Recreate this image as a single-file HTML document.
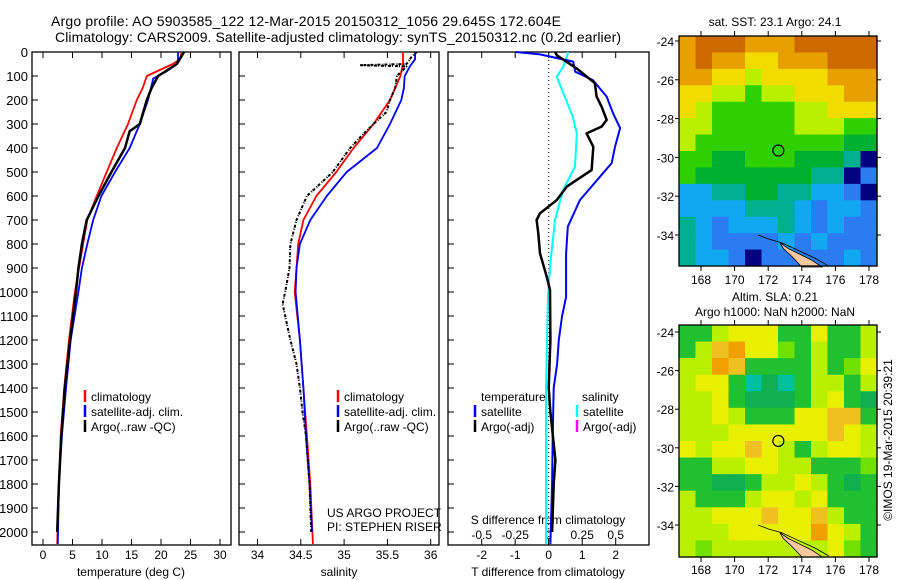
<!DOCTYPE html>
<html><head><meta charset="utf-8"><style>
body{margin:0;background:#fff}
svg{display:block;font-family:"Liberation Sans",sans-serif}
</style></head><body>
<svg id="fig" width="900" height="580" xmlns="http://www.w3.org/2000/svg">
<text x="306" y="26" font-size="14" text-anchor="middle" textLength="510">Argo profile: AO 5903585_122 12-Mar-2015 20150312_1056 29.645S 172.604E</text>
<text x="338" y="42" font-size="14" text-anchor="middle" textLength="566">Climatology: CARS2009. Satellite-adjusted climatology: synTS_20150312.nc (0.2d earlier)</text>
<text x="775" y="26" font-size="12" text-anchor="middle">sat. SST: 23.1  Argo: 24.1</text>
<text x="775" y="301" font-size="12" text-anchor="middle">Altim. SLA: 0.21</text>
<text x="775" y="316" font-size="12" text-anchor="middle">Argo h1000: NaN h2000: NaN</text>
<text transform="translate(892,440) rotate(-90)" font-size="12" text-anchor="middle">©IMOS 19-Mar-2015 20:39:21</text>
<g id="g"></g>
</svg>
<script>
// ---- data ----
const depthTicks=[0,100,200,300,400,500,600,700,800,900,1000,1100,1200,1300,1400,1500,1600,1700,1800,1900,2000];
const tempTicks=[0,5,10,15,20,25,30];
const salTicks=[34,34.5,35,35.5,36];
const salTickLabels=["34","34.5","35","35.5","36"];
const tdTicks=[-2,-1,0,1,2];
const sdTicks=[-0.5,-0.25,0,0.25,0.5];
const sdTickLabels=["-0.5","-0.25","0","0.25","0.5"];

const tClimDepth=[0,30,50,100,150,200,300,400,500,600,700,800,900,1000,1200,1400,1600,1800,2050];
const tClim=[23.5,23.2,22.0,17.6,16.9,15.9,14.4,12.5,10.8,9.1,7.5,6.8,6.1,5.4,4.4,3.6,3.0,2.7,2.4];
const tSatDepth=[0,30,50,80,110,200,300,400,500,600,700,800,900,1000,1200,1400,1600,1800,2050];
const tSat=[22.9,22.9,22.7,21.0,18.7,17.8,16.4,14.7,12.2,9.9,8.5,7.5,6.6,6.0,4.7,3.9,3.2,2.7,2.5];
const tArgoDepth=[0,50,100,150,200,300,330,400,500,600,700,800,900,1000,1200,1400,1600,1800,2000];
const tArgo=[23.9,22.7,19.5,18.4,17.6,16.4,14.7,13.9,11.6,9.4,7.4,6.6,6.0,5.6,4.6,3.7,3.1,2.7,2.4];

const sClimDepth=[0,50,100,200,300,400,500,600,700,800,900,1000,1200,1400,1600,1800,2050];
const sClim=[35.68,35.68,35.65,35.53,35.34,35.11,34.91,34.68,34.53,34.47,34.45,34.43,34.49,34.53,34.57,34.61,34.64];
const sSatDepth=[0,30,60,100,150,200,300,400,500,600,700,800,900,1000,1200,1400,1600,1800,2000];
const sSat=[35.82,35.82,35.76,35.70,35.69,35.66,35.53,35.38,35.03,34.80,34.61,34.49,34.45,34.44,34.49,34.53,34.56,34.60,34.63];
const sArgoDepth=[0,20,50,55,60,100,150,200,250,300,350,400,500,550,600,700,800,900,1000,1050,1100,1200,1300,1400,1500,1600,1800,2000];
const sArgo=[35.84,35.78,35.72,35.18,35.72,35.61,35.59,35.53,35.49,35.34,35.20,35.07,34.87,34.72,34.57,34.45,34.38,34.37,34.32,34.29,34.32,34.38,34.45,34.49,34.52,34.56,34.60,34.62];

const tdSatDepth=[0,10,40,82,117,186,255,317,395,463,505,617,728,840,1020,1100,1200,1300,1400,1600,1800,2050];
const tdSat=[-0.98,-0.26,0.73,0.79,1.32,1.73,1.92,2.13,1.98,1.88,1.62,0.93,0.57,0.52,0.52,0.4,0.3,0.25,0.15,0.12,0.1,0.05];
const tdArgoDepth=[0,15,68,130,186,228,283,311,339,395,492,561,617,672,700,756,839,936,992,1200,1400,1500,1700,1800,2000];
const tdArgo=[0.19,0.25,0.83,1.38,1.43,1.58,1.73,1.58,1.13,1.33,1.28,0.54,0.24,-0.26,-0.36,-0.31,-0.26,-0.06,0.04,0.05,0.0,0.05,0.2,0.15,0.1];
const sdSatDepth=[0,61,103,200,270,339,478,575,700,895,1020,1400,2050];
const sdSat=[0.146,0.11,0.06,0.13,0.18,0.21,0.196,0.107,0.047,0.01,-0.005,-0.02,-0.02];

const lonTicks=[168,170,172,174,176,178];
const latTicks=[-24,-26,-28,-30,-32,-34];
const sstPalette=["#cc6a00","#e8a000","#f2dc00","#b8f000","#30d000","#00b030","#00b090","#10a8f0","#2a7cf0","#000080"];
const sstGrid=[
"100011100000","101122111000","112232222111","223343322211","234444433222","334444433344",
"344444444455","445544455569","455555556698","776655667789","777766678778","678777678788",
"678888787888","677898888878"];
const slaPalette=["#f0a000","#f0c020","#e8f000","#b8f000","#70e000","#20c030","#10b050","#00c0a0"];
const slaGrid=[
"553222552553","531022453553","330155553542","322576753353","332566653256","332355522115",
"333222222123","232212353223","553322335554","556653323565","355532232555","332221221355",
"333222220235","343333333245"];
const argoLon=172.604, argoLat=-29.645;

// ---- drawing ----
const NS="http://www.w3.org/2000/svg", G=document.getElementById('g');
function el(t,a,p){const e=document.createElementNS(NS,t);for(const k in a)e.setAttribute(k,a[k]);(p||G).appendChild(e);return e;}
const yTop=52,yBot=545;
const yD=d=>yTop+d*0.24;
const panels=[
 {x0:32,x1:231,fx:v=>43+v*5.9,name:'temperature-panel'},
 {x0:239,x1:439,fx:v=>257.5+(v-34)*86.6,name:'salinity-panel'},
 {x0:448,x1:649,fx:v=>548.7+v*33.5,name:'difference-panel'}];
const fS=v=>548.7+v*134;

panels.forEach((p,i)=>{
 const r=el('rect',{x:p.x0,y:yTop,width:p.x1-p.x0,height:yBot-yTop,fill:'none',stroke:'#000','stroke-width':1.3});
 
 
 depthTicks.forEach(d=>{
  const t=el('line',{x1:p.x0,x2:p.x0+6,y1:yD(d),y2:yD(d),stroke:'#000'});
  
  
  if(i==0){const l=el('text',{x:p.x0-4,y:yD(d)+5,'font-size':13,'text-anchor':'end'});l.textContent=d;
   
   }
 });
});
function xticks(p,vals,labels){
 vals.forEach((v,k)=>{const x=p.fx(v);
  el('line',{x1:x,x2:x,y1:yBot,y2:yBot-6,stroke:'#000'});el('line',{x1:x,x2:x,y1:yTop,y2:yTop+6,stroke:'#000'});
  const l=el('text',{x:x,y:559,'font-size':12,'text-anchor':'middle'});l.textContent=labels?labels[k]:v;
  
  });
}
xticks(panels[0],tempTicks);xticks(panels[1],salTicks,salTickLabels);xticks(panels[2],tdTicks);
sdTicks.forEach((v,k)=>{const l=el('text',{x:fS(v),y:539,'font-size':12,'text-anchor':'middle'});l.textContent=sdTickLabels[k];
 
 });
[['temperature (deg C)',131],['salinity',339],['T difference from climatology',548]].forEach(a=>{
 const l=el('text',{x:a[1],y:576,'font-size':12,'text-anchor':'middle'});l.textContent=a[0];
 
 });
const sl=el('text',{x:548,y:524,'font-size':12,'text-anchor':'middle'});sl.textContent='S difference from climatology';


el('line',{x1:548.7,x2:548.7,y1:yTop,y2:yBot,stroke:'#000','stroke-dasharray':'1,3'});

function line(depths,vals,fx,color,w,name,dash){
 const pts=depths.map((d,k)=>fx(vals[k]).toFixed(1)+','+yD(d).toFixed(1)).join(' ');
 const a={points:pts,fill:'none',stroke:color,'stroke-width':w,'stroke-linejoin':'round'};if(dash)a['stroke-dasharray']=dash;
 const e=el('polyline',a);
 
 
}
const fT=panels[0].fx,fSal=panels[1].fx,fTd=panels[2].fx;
line(tClimDepth,tClim,fT,'#f00',1.8,'temp-climatology-line');
line(tSatDepth,tSat,fT,'#00f',1.8,'temp-satellite-line');
line(tArgoDepth,tArgo,fT,'#000',2.5,'temp-argo-line');
line(sClimDepth,sClim,fSal,'#f00',1.8,'sal-climatology-line');
line(sSatDepth,sSat,fSal,'#00f',1.8,'sal-satellite-line');
line(sArgoDepth,sArgo,fSal,'#000',2,'sal-argo-line','3,1,1,2');
line(sdSatDepth,sdSat,fS,'#0ff',2,'sdiff-satellite-line');
line(tdSatDepth,tdSat,fTd,'#00f',2,'tdiff-satellite-line');
line(tdArgoDepth,tdArgo,fTd,'#000',2.5,'tdiff-argo-line');

function legend(x,y,color,text){
 el('line',{x1:x,x2:x,y1:y-11,y2:y+1,stroke:color,'stroke-width':2.5});
 const l=el('text',{x:x+6,y:y,'font-size':12});l.textContent=text;
 
 
}
[[401,'#f00','climatology'],[416,'#00f','satellite-adj. clim.'],[431,'#000','Argo(..raw -QC)']].forEach(a=>{legend(85,a[0],a[1],a[2]);legend(338,a[0],a[1],a[2]);});
const tt=el('text',{x:481,y:401,'font-size':12});tt.textContent='temperature';
const st=el('text',{x:582,y:401,'font-size':12});st.textContent='salinity';
legend(475,416,'#00f','satellite');legend(475,431,'#000','Argo(-adj)');
legend(577,416,'#0ff','satellite');legend(577,431,'#f0f','Argo(-adj)');
const u1=el('text',{x:327,y:517,'font-size':12});u1.textContent='US ARGO PROJECT';
const u2=el('text',{x:327,y:531,'font-size':12});u2.textContent='PI: STEPHEN RISER';

// maps
function map(top,bot,grid,pal,name,lonLabY){
 const x0=679,x1=877,lat0=-24,y24=top+ (name=='sst'?5:7),pxLat=name=='sst'?19.4:19.3;
 const lx=lon=>701+(lon-168)*16.8, ly=lat=>y24+(lat0-lat)*pxLat;
 const cw=(x1-x0)/12,ch=(bot-top)/grid.length;
 grid.forEach((row,r)=>{[...row].forEach((c,k)=>{
  const e=el('rect',{x:(x0+k*cw).toFixed(2),y:(top+r*ch).toFixed(2),width:(cw+0.6).toFixed(2),height:(ch+0.6).toFixed(2),fill:pal[+c]});
  
  
 });});
 const land=[[172.7,-34.4],[173.2,-34.7],[173.9,-35.0],[174.6,-35.3],[175.2,-35.65],[174.0,-35.65],[173.4,-35.1],[172.9,-34.7]];
 const lp=el('polygon',{points:land.map(p=>lx(p[0])+','+ly(p[1])).join(' '),fill:'#f8c8a0',stroke:'#000','stroke-width':0.8});
 
 
 const coast=[[171.4,-34.0],[172.0,-34.2],[172.8,-34.4],[173.8,-34.8],[174.8,-35.2],[175.6,-35.6]];
 el('polyline',{points:coast.map(p=>lx(p[0])+','+ly(p[1])).join(' '),fill:'none',stroke:'#000','stroke-width':0.8});
 const c=el('circle',{cx:lx(argoLon),cy:ly(argoLat),r:5.5,fill:'none',stroke:'#000','stroke-width':1.2});
 
 
 const f=el('rect',{x:x0,y:top,width:x1-x0,height:bot-top,fill:'none',stroke:'#000','stroke-width':1.3});
 
 
 lonTicks.forEach(v=>{const x=lx(v);el('line',{x1:x,x2:x,y1:top,y2:top-5,stroke:'#000'});el('line',{x1:x,x2:x,y1:bot,y2:bot+5,stroke:'#000'});
  const l=el('text',{x:x,y:lonLabY,'font-size':12,'text-anchor':'middle'});l.textContent=v;
  
  });
 latTicks.forEach(v=>{const y=ly(v);el('line',{x1:x0,x2:x0-4,y1:y,y2:y,stroke:'#000'});el('line',{x1:x1,x2:x1+4,y1:y,y2:y,stroke:'#000'});
  const l=el('text',{x:674,y:y+5,'font-size':12,'text-anchor':'end'});l.textContent=v;
  
  });
}
map(36,266,sstGrid,sstPalette,'sst',284);
map(325,557,slaGrid,slaPalette,'sla',574);
</script>
</body></html>
